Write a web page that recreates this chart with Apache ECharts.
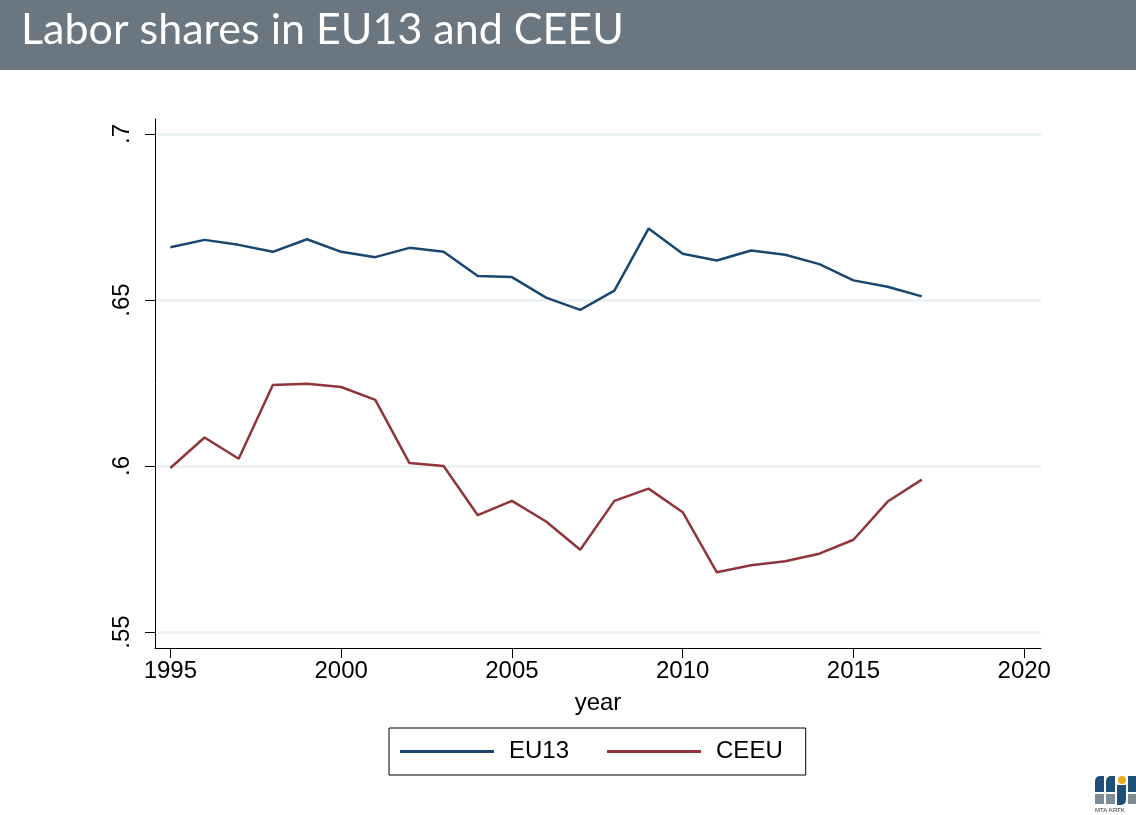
<!DOCTYPE html>
<html>
<head>
<meta charset="utf-8">
<script src="https://cdn.jsdelivr.net/npm/echarts@6/dist/echarts.min.js"></script>
<style>
html,body{margin:0;padding:0;background:#fff;}
#chart{width:1136px;height:815px;}
</style>
</head>
<body>
<div id="chart"></div>
<script>
const titleText = 'Labor shares in EU13 and CEEU';
const years = [1995,1996,1997,1998,1999,2000,2001,2002,2003,2004,2005,2006,2007,2008,2009,2010,2011,2012,2013,2014,2015,2016,2017];
const eu13 = [0.6659,0.6681,0.6666,0.6645,0.6683,0.6645,0.6629,0.6657,0.6645,0.6572,0.6569,0.6507,0.6470,0.6528,0.6715,0.6639,0.6619,0.6649,0.6636,0.6608,0.6559,0.6540,0.6511];
const ceeu = [0.5994,0.6086,0.6022,0.6244,0.6248,0.6238,0.6199,0.6009,0.6000,0.5852,0.5895,0.5833,0.5748,0.5895,0.5932,0.5861,0.5680,0.5701,0.5713,0.5736,0.5778,0.5893,0.5959];
const seriesNames = ['EU13', 'CEEU'];
const xTickValues = [1995,2000,2005,2010,2015,2020];
const yTickValues = [0.55,0.6,0.65,0.7];
const yTickLabels = ['.55','.6','.65','.7'];
const xAxisName = 'year';

const chart = echarts.init(document.getElementById('chart'), null, {renderer:'canvas'});
const font = '"Liberation Sans", Arial, sans-serif';
const option = {
  animation: false,
  backgroundColor: '#ffffff',
  grid: {left:155, right:95, top:119, bottom:167, containLabel:false},
  xAxis: {
    type:'value', min:1994.55, max:2020.49,
    name: xAxisName, nameLocation:'middle', nameGap:43,
    nameTextStyle:{fontFamily:font, fontSize:24, color:'#000'},
    axisLine:{show:true, onZero:false, lineStyle:{color:'#000', width:1}},
    axisTick:{show:true, length:10, lineStyle:{color:'#000'}, customValues:xTickValues},
    axisLabel:{customValues:xTickValues, fontFamily:font, fontSize:24, color:'#000', margin:11, formatter: v => String(v)},
    splitLine:{show:false}
  },
  yAxis: {
    type:'value', min:0.5452, max:0.7045,
    axisLine:{show:true, onZero:false, lineStyle:{color:'#000', width:1}},
    axisTick:{show:true, length:10, lineStyle:{color:'#000'}, customValues:yTickValues},
    axisLabel:{customValues:yTickValues, fontFamily:font, fontSize:24, color:'#000', rotate:90, margin:21,
      formatter: v => { const i = yTickValues.findIndex(t => Math.abs(t - v) < 1e-6); return i >= 0 ? yTickLabels[i] : ''; }},
    splitLine:{show:true, lineStyle:{color:'#eaf1f2', width:2.5}}
  },
  legend: {
    left:389, top:728,
    data: seriesNames,
    orient:'horizontal',
    icon:'rect', itemWidth:94, itemHeight:3, itemGap:38,
    borderColor:'#000', borderWidth:1, borderRadius:0,
    padding:[11,23,11,11],
    textStyle:{fontFamily:font, fontSize:24, color:'#000', padding:[0,0,0,10], lineHeight:25}
  },
  series: [
    {name:seriesNames[0], type:'line', showSymbol:false, symbol:'none', color:'#1a476f',
     lineStyle:{width:2.5, color:'#1a476f'}, data: years.map((y,i)=>[y, eu13[i]])},
    {name:seriesNames[1], type:'line', showSymbol:false, symbol:'none', color:'#90353b',
     lineStyle:{width:2.5, color:'#90353b'}, data: years.map((y,i)=>[y, ceeu[i]])}
  ],
  graphic: [
    {type:'rect', left:0, top:0, shape:{width:1136, height:70}, style:{fill:'#6a7680'}, z:-1},
    {type:'text', left:21, top:9, style:{text:titleText, fill:'#ffffff', font:'43px Lato, "Open Sans", sans-serif'}},
    {type:'group', left:1095, top:776, children:[
      {type:'rect', shape:{x:0,y:0,width:9,height:16, r:[5,0,0,0]}, style:{fill:'#1f4e79'}},
      {type:'rect', shape:{x:11,y:0,width:9,height:16, r:[5,0,0,0]}, style:{fill:'#1f4e79'}},
      {type:'circle', shape:{cx:27,cy:4,r:4}, style:{fill:'#e8a820'}},
      {type:'rect', shape:{x:22,y:9,width:9,height:20, r:[0,0,5,0]}, style:{fill:'#1f4e79'}},
      {type:'rect', shape:{x:33,y:0,width:8,height:16}, style:{fill:'#1f4e79'}},
      {type:'rect', shape:{x:0,y:18,width:9,height:10}, style:{fill:'#7f8c95'}},
      {type:'rect', shape:{x:11,y:18,width:9,height:10}, style:{fill:'#7f8c95'}},
      {type:'rect', shape:{x:33,y:18,width:8,height:10}, style:{fill:'#7f8c95'}},
      {type:'text', x:0, y:31, style:{text:'MTA KRTK', fill:'#333', font:'6px "Liberation Sans", sans-serif'}}
    ]}
  ]
};
chart.setOption(option);
</script>
</body>
</html>
